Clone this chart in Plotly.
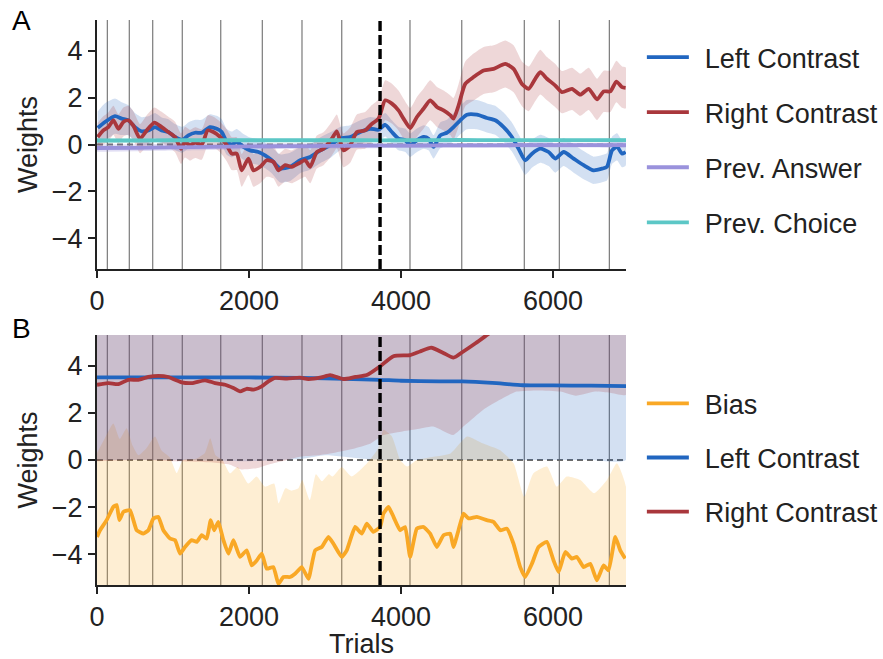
import plotly.graph_objects as go

# ---------------- Panel A: weights with history regressors ----------------
left_a_trials = [9, 105, 237, 325, 412, 500, 588, 676, 763, 851,
                 939, 1027, 1123, 1202, 1290, 1378, 1487, 1575, 1641, 1707,
                 1773, 1839, 1926, 2014, 2124, 2211, 2299, 2410, 2541, 2673,
                 2805, 2936, 3068, 3200, 3331, 3463, 3594, 3704, 3792, 3880,
                 3967, 4055, 4121, 4209, 4296, 4362, 4428, 4516, 4604, 4691,
                 4779, 4867, 4999, 5130, 5240, 5350, 5459, 5547, 5635, 5723,
                 5832, 5942, 6030, 6140, 6271, 6403, 6534, 6644, 6710, 6776,
                 6842, 6908, 6955]
left_a_w = [0.71, 0.96, 1.21, 1.10, 1.03, 0.74, 0.56, 0.60, 0.74, 0.60,
            0.53, 0.32, 0.20, 0.39, 0.50, 0.50, 0.74, 0.67, 0.53, 0.11,
            0.00, 0.11, -0.10, -0.25, -0.32, -0.46, -0.67, -1.02, -0.95, -0.67,
            -0.53, -0.25, -0.03, 0.25, 0.32, 0.53, 0.67, 0.63, 0.84, 0.53,
            0.25, 0.18, -0.03, 0.18, 0.32, 0.25, -0.10, 0.39, 0.50, 0.74,
            1.03, 1.27, 1.27, 1.13, 1.03, 0.74, 0.32, -0.18, -0.67, -0.39,
            -0.18, -0.32, -0.60, -0.32, -0.60, -0.88, -1.10, -1.03, -0.95, -0.25,
            -0.10, -0.39, -0.32]
left_a_sd = [0.70, 0.80, 0.75, 0.70, 0.65, 0.60, 0.60, 0.60, 0.60, 0.55,
             0.55, 0.55, 0.55, 0.55, 0.55, 0.55, 0.55, 0.55, 0.55, 0.55,
             0.55, 0.55, 0.55, 0.55, 0.55, 0.55, 0.55, 0.60, 0.60, 0.55,
             0.55, 0.55, 0.55, 0.50, 0.50, 0.50, 0.50, 0.50, 0.50, 0.50,
             0.50, 0.50, 0.50, 0.50, 0.50, 0.50, 0.50, 0.55, 0.55, 0.60,
             0.60, 0.62, 0.62, 0.62, 0.62, 0.62, 0.62, 0.62, 0.62, 0.60,
             0.60, 0.60, 0.60, 0.60, 0.60, 0.60, 0.58, 0.58, 0.58, 0.58,
             0.58, 0.58, 0.58]

right_a_trials = [9, 83, 149, 215, 281, 347, 412, 478, 566, 654,
                  755, 851, 939, 1027, 1106, 1158, 1224, 1290, 1378, 1457,
                  1531, 1619, 1707, 1773, 1839, 1904, 1992, 2058, 2146, 2233,
                  2321, 2388, 2475, 2563, 2651, 2739, 2805, 2892, 2980, 3090,
                  3155, 3243, 3331, 3419, 3528, 3616, 3704, 3792, 3880, 3967,
                  4033, 4121, 4209, 4296, 4384, 4472, 4560, 4647, 4691, 4757,
                  4845, 4955, 5086, 5218, 5372, 5481, 5591, 5679, 5767, 5832,
                  5920, 6030, 6118, 6249, 6359, 6469, 6579, 6666, 6754, 6833,
                  6908, 6955]
right_a_w = [0.32, 0.60, 0.74, 1.03, 0.67, 0.96, 1.03, 0.80, 0.25, 0.60,
             0.93, 0.74, 0.53, 0.32, -0.18, 0.10, -0.03, 0.08, 0.00, 0.60,
             0.53, 0.32, -0.03, -0.39, -0.39, -1.10, -0.60, -1.10, -0.95, -0.67,
             -0.74, -1.10, -0.88, -0.95, -0.81, -0.67, -0.95, -0.32, -0.18, 0.25,
             0.56, -0.25, -0.03, 0.53, 0.60, 0.88, 1.10, 1.88, 1.74, 1.45,
             1.10, 0.70, 1.17, 1.52, 1.88, 1.60, 1.45, 1.25, 1.10, 1.66,
             2.58, 2.87, 3.15, 3.22, 3.43, 3.22, 2.58, 2.37, 2.80, 3.08,
             2.80, 2.51, 2.23, 2.37, 2.12, 2.37, 1.92, 2.26, 2.26, 2.68,
             2.44, 2.41]
right_a_sd = [0.60, 0.60, 0.62, 0.62, 0.62, 0.62, 0.62, 0.62, 0.62, 0.65,
              0.65, 0.65, 0.65, 0.65, 0.65, 0.65, 0.65, 0.65, 0.65, 0.65,
              0.65, 0.65, 0.68, 0.70, 0.70, 0.70, 0.70, 0.70, 0.70, 0.70,
              0.70, 0.70, 0.70, 0.70, 0.70, 0.70, 0.70, 0.70, 0.70, 0.72,
              0.72, 0.72, 0.75, 0.75, 0.78, 0.80, 0.82, 0.85, 0.85, 0.85,
              0.85, 0.85, 0.85, 0.85, 0.85, 0.85, 0.85, 0.85, 0.88, 0.90,
              0.95, 1.00, 1.00, 1.00, 1.00, 1.00, 0.95, 0.95, 0.95, 0.95,
              0.92, 0.92, 0.90, 0.90, 0.90, 0.90, 0.88, 0.88, 0.88, 0.88,
              0.88, 0.88]

hist_trials = [0, 500, 1000, 1500, 2000, 2500, 3000, 3500, 4000, 4500,
               5000, 5500, 6000, 6500, 6960]
prev_answer_w = [-0.15, -0.14, -0.12, -0.10, -0.08, -0.07, -0.06, -0.05, -0.05, -0.04,
                 -0.04, -0.03, -0.03, -0.03, -0.03]
prev_answer_sd = [0.16, 0.15, 0.14, 0.13, 0.12, 0.12, 0.11, 0.11, 0.10, 0.10,
                  0.10, 0.10, 0.10, 0.10, 0.10]
prev_choice_w = [0.17, 0.17, 0.18, 0.18, 0.18, 0.18, 0.18, 0.18, 0.18, 0.19,
                 0.19, 0.19, 0.19, 0.19, 0.19]
prev_choice_sd = [0.10, 0.09, 0.08, 0.07, 0.07, 0.06, 0.06, 0.06, 0.06, 0.06,
                  0.06, 0.06, 0.06, 0.06, 0.06]

# ---------------- Panel B: bias model ----------------
bias_trials = [0, 40, 127, 215, 259, 294, 347, 434, 522, 610,
               676, 742, 807, 873, 961, 1027, 1093, 1158, 1246, 1312,
               1378, 1444, 1496, 1540, 1597, 1663, 1729, 1795, 1882, 1970,
               2036, 2102, 2168, 2233, 2321, 2387, 2453, 2541, 2606, 2694,
               2782, 2870, 2957, 3045, 3111, 3220, 3286, 3396, 3484, 3550,
               3637, 3725, 3769, 3835, 3901, 3988, 4054, 4120, 4208, 4296,
               4383, 4471, 4559, 4647, 4690, 4756, 4822, 4888, 4998, 5129,
               5217, 5305, 5393, 5480, 5568, 5634, 5722, 5809, 5919, 6007,
               6073, 6161, 6248, 6314, 6402, 6490, 6577, 6665, 6731, 6819,
               6884, 6950]
bias_w = [-3.26, -2.98, -2.55, -1.99, -1.91, -2.55, -2.20, -2.13, -2.98, -3.12,
          -2.98, -2.48, -2.41, -2.98, -3.33, -3.40, -3.97, -3.69, -3.40, -3.47,
          -3.19, -3.33, -2.55, -2.98, -2.62, -3.40, -3.97, -3.40, -4.11, -3.83,
          -4.47, -4.26, -3.97, -4.61, -4.54, -5.25, -4.96, -4.96, -4.82, -4.54,
          -5.04, -3.83, -3.69, -3.26, -3.55, -4.11, -3.83, -2.84, -3.12, -2.70,
          -3.05, -2.84, -2.27, -1.99, -2.41, -2.98, -2.84, -4.11, -2.91, -2.84,
          -3.12, -3.69, -3.19, -3.12, -3.69, -2.98, -2.27, -2.48, -2.41, -2.55,
          -2.62, -2.98, -2.91, -3.55, -4.54, -4.96, -4.40, -3.69, -3.47, -4.26,
          -4.75, -3.90, -4.18, -4.11, -4.54, -4.40, -5.10, -4.47, -4.68, -3.26,
          -3.83, -4.18]

bias_band_trials = [0, 100, 215, 300, 390, 470, 544, 650, 763, 850,
                    960, 1050, 1130, 1300, 1420, 1490, 1560, 1650, 1750, 1850,
                    1990, 2100, 2210, 2330, 2390, 2480, 2560, 2650, 2700, 2800,
                    2880, 2960, 3050, 3100, 3220, 3350, 3550, 3700, 3770, 3880,
                    3990, 4080, 4210, 4430, 4650, 4870, 5080, 5300, 5480, 5620,
                    5740, 5920, 6050, 6180, 6360, 6540, 6710, 6840, 6960]
bias_hi = [0.30, 0.90, 1.55, 0.90, 1.35, 0.60, 0.20, 0.50, 1.00, 0.40,
           0.10, -0.55, 0.00, 0.05, 0.30, 0.92, 0.20, 0.00, -0.57, -0.30,
           -1.00, -0.70, -1.13, -1.00, -1.84, -1.20, -1.30, -1.20, -0.85, -1.70,
           -0.60, -0.90, -0.60, -0.70, -0.30, -0.70, -0.15, 0.50, 1.28, 1.00,
           0.00, -0.28, 0.00, 0.14, 0.28, 1.00, 0.70, 0.42, -0.14, -1.56,
           -0.57, -0.28, -1.13, -0.70, -0.85, -1.41, -0.85, -0.14, -1.13]
bias_lo = [-6.8, -6.4, -5.5, -6.0, -5.8, -6.3, -6.6, -6.5, -5.8, -6.3,
           -6.8, -7.2, -7.3, -6.9, -6.6, -5.9, -6.4, -6.9, -7.2, -7.4,
           -7.3, -7.8, -7.6, -8.0, -8.6, -8.3, -8.3, -8.2, -8.0, -8.5,
           -7.2, -7.1, -6.6, -6.9, -7.5, -7.1, -6.1, -6.2, -5.7, -5.4,
           -6.4, -7.5, -6.3, -6.5, -6.5, -5.7, -5.8, -6.4, -6.9, -8.4,
           -7.8, -6.9, -7.7, -7.3, -7.9, -7.8, -8.1, -6.7, -7.6]

left_b_trials = [0, 1000, 2000, 2700, 3000, 3500, 3724, 4000, 4500, 4800,
                 5200, 5600, 6000, 6500, 6960]
left_b_w = [3.50, 3.50, 3.50, 3.48, 3.46, 3.42, 3.40, 3.36, 3.33, 3.33,
            3.27, 3.17, 3.16, 3.15, 3.13]
left_b_lo = [0.00, 0.00, -0.05, 0.05, 0.20, 0.05, 0.00, 0.00, 0.00, 0.00,
             0.00, 0.00, 0.00, 0.00, 0.00]
left_b_hi = [7.0, 7.0, 7.1, 6.9, 6.7, 6.8, 6.8, 6.7, 6.7, 6.7,
             6.5, 6.3, 6.3, 6.3, 6.3]

right_b_trials = [0, 149, 281, 412, 544, 676, 807, 939, 1027, 1114,
                  1246, 1422, 1553, 1685, 1795, 1882, 1970, 2058, 2168, 2255,
                  2343, 2500, 2670, 2780, 2950, 3067, 3240, 3400, 3550, 3724,
                  3900, 4120, 4250, 4400, 4550, 4690, 4820, 4980, 5130, 5300,
                  5600, 6000, 6500, 6960]
right_b_w = [3.19, 3.26, 3.22, 3.40, 3.40, 3.52, 3.57, 3.52, 3.40, 3.29,
             3.26, 3.38, 3.26, 3.19, 3.05, 2.91, 3.02, 2.98, 3.12, 3.33,
             3.48, 3.45, 3.49, 3.43, 3.50, 3.60, 3.43, 3.52, 3.60, 3.97,
             4.40, 4.45, 4.60, 4.76, 4.55, 4.34, 4.60, 4.95, 5.30, 5.70,
             6.30, 6.80, 7.20, 7.40]
right_band_trials = [0, 500, 1000, 1500, 1750, 1900, 2100, 2250, 2500, 2670,
                     2900, 3107, 3400, 3600, 3770, 4000, 4200, 4424, 4687, 4850,
                     5082, 5300, 5520, 5800, 6095, 6300, 6550, 6750, 6960]
right_b_lo = [-0.05, 0.00, -0.05, -0.10, -0.20, -0.40, -0.35, -0.20, 0.00, 0.14,
              0.20, 0.30, 0.50, 0.70, 1.06, 1.20, 1.30, 1.42, 1.06, 1.50,
              2.13, 2.55, 2.90, 2.95, 2.90, 2.72, 2.90, 2.85, 2.77]
right_b_hi = [6.6, 6.9, 7.1, 6.9, 6.6, 6.3, 6.4, 6.8, 7.0, 6.9,
              7.0, 7.0, 6.8, 6.8, 7.4, 7.9, 8.3, 8.6, 8.0, 8.6,
              9.5, 10.1, 10.6, 11.0, 11.3, 11.6, 12.0, 12.1, 12.0]

# session boundaries and the training/testing split
session_starts = [136, 425, 733, 1122, 1628, 2175, 2697, 3220, 4118, 4799,
                  5622, 6083, 6741]
split_trial = 3724

x_ticks = [0, 2000, 4000, 6000]
y_ticks = [-4, -2, 0, 2, 4]
X_MAX = 6960
Y_LIM = 5.3

BLUE = "#2166c0"
RED = "#a9373c"
PURPLE = "#9a92dc"
TEAL = "#5cc7c6"
ORANGE = "#f9a825"
TEXT = "#222222"
FONT = "Liberation Sans, Arial, Helvetica, sans-serif"
FS = 27
GAP = "\u2009\u2009"   # extra room between legend line and label


def rgba(hex_color, alpha):
    h = hex_color.lstrip("#")
    r, g, b = int(h[0:2], 16), int(h[2:4], 16), int(h[4:6], 16)
    return f"rgba({r},{g},{b},{alpha})"


fig = go.Figure()


def add_band(x, lo, hi, color, xa, ya, alpha=0.2):
    fig.add_trace(go.Scatter(
        x=list(x) + list(x)[::-1], y=list(hi) + list(lo)[::-1],
        fill="toself", fillcolor=rgba(color, alpha), line=dict(width=0, shape="spline", smoothing=0.5),
        mode="lines", hoverinfo="skip", showlegend=False,
        xaxis=xa, yaxis=ya))


def add_line(x, y, color, name, xa, ya, legend, group, smooth=0.6):
    fig.add_trace(go.Scatter(
        x=x, y=y, mode="lines", name=GAP + name,
        line=dict(color=color, width=3.8, shape="spline", smoothing=smooth),
        xaxis=xa, yaxis=ya, legend=legend, legendgroup=group))


def plus(a, b):
    return [u + v for u, v in zip(a, b)]


def minus(a, b):
    return [u - v for u, v in zip(a, b)]


# Panel A bands then lines
add_band(left_a_trials, minus(left_a_w, left_a_sd), plus(left_a_w, left_a_sd), BLUE, "x", "y")
add_band(right_a_trials, minus(right_a_w, right_a_sd), plus(right_a_w, right_a_sd), RED, "x", "y")
add_band(hist_trials, minus(prev_answer_w, prev_answer_sd), plus(prev_answer_w, prev_answer_sd), PURPLE, "x", "y", 0.3)
add_band(hist_trials, minus(prev_choice_w, prev_choice_sd), plus(prev_choice_w, prev_choice_sd), TEAL, "x", "y", 0.25)
add_line(left_a_trials, left_a_w, BLUE, "Left Contrast", "x", "y", "legend", "a1")
add_line(right_a_trials, right_a_w, RED, "Right Contrast", "x", "y", "legend", "a2")
add_line(hist_trials, prev_answer_w, PURPLE, "Prev. Answer", "x", "y", "legend", "a3")
add_line(hist_trials, prev_choice_w, TEAL, "Prev. Choice", "x", "y", "legend", "a4")

# Panel B bands then lines
add_band(bias_band_trials, bias_lo, bias_hi, ORANGE, "x2", "y2")
add_band(left_b_trials, left_b_lo, left_b_hi, BLUE, "x2", "y2")
add_band(right_band_trials, right_b_lo, right_b_hi, RED, "x2", "y2")
add_line(bias_trials, bias_w, ORANGE, "Bias", "x2", "y2", "legend2", "b1", smooth=0.4)
add_line(left_b_trials, left_b_w, BLUE, "Left Contrast", "x2", "y2", "legend2", "b2")
add_line(right_b_trials, right_b_w, RED, "Right Contrast", "x2", "y2", "legend2", "b3")

shapes = []
for xa, ya in (("x", "y"), ("x2", "y2")):
    for s in session_starts:
        shapes.append(dict(type="line", xref=xa, yref=ya + " domain", x0=s, x1=s, y0=0, y1=1,
                           line=dict(color="#7a7a7a", width=1.2), layer="below"))
    shapes.append(dict(type="line", xref=xa + " domain", yref=ya, x0=0, x1=1, y0=0, y1=0,
                       line=dict(color="#6a6a6a", width=1.8, dash="6px,4px"), layer="below"))
    shapes.append(dict(type="line", xref=xa, yref=ya + " domain", x0=split_trial, x1=split_trial,
                       y0=0, y1=1, line=dict(color="black", width=3.4, dash="10px,4px"), layer="above"))

axis_common = dict(
    range=[0, X_MAX], showline=True, linewidth=2, linecolor=TEXT, mirror=False,
    ticks="outside", ticklen=7, tickwidth=2, tickcolor=TEXT, automargin=False,
    showgrid=False, zeroline=False, tickfont=dict(size=FS, color=TEXT, family=FONT),
)
yaxis_common = dict(
    range=[-Y_LIM, Y_LIM], showline=True, linewidth=2, linecolor=TEXT, automargin=False,
    ticks="outside", ticklen=7, tickwidth=2, tickcolor=TEXT, tickvals=y_ticks,
    showgrid=False, zeroline=False, tickfont=dict(size=FS, color=TEXT, family=FONT),
    title=dict(text="Weights", font=dict(size=FS, color=TEXT, family=FONT), standoff=6),
)

legend_common = dict(
    font=dict(size=FS, color=TEXT, family=FONT), bgcolor="rgba(0,0,0,0)",
    borderwidth=0, itemwidth=42, xanchor="left", yanchor="top",
)

fig.update_layout(
    width=883, height=659,
    margin=dict(l=97, r=257, t=20, b=74, autoexpand=False),
    paper_bgcolor="white", plot_bgcolor="white",
    font=dict(family=FONT, color=TEXT, size=FS),
    xaxis=dict(axis_common, domain=[0, 1], anchor="y", tickvals=x_ticks),
    yaxis=dict(yaxis_common, domain=[0.5593, 1], anchor="x"),
    xaxis2=dict(axis_common, domain=[0, 1], anchor="y2", tickvals=x_ticks,
                title=dict(text="Trials", font=dict(size=FS, color=TEXT, family=FONT), standoff=4)),
    yaxis2=dict(yaxis_common, domain=[0, 0.4425], anchor="x2"),
    legend=dict(legend_common, x=1.03, y=0.977, tracegroupgap=17),
    legend2=dict(legend_common, x=1.03, y=0.364, tracegroupgap=16),
    shapes=shapes,
    annotations=[
        dict(text="A", x=-0.164, y=1.03, xref="paper", yref="paper", showarrow=False,
             xanchor="left", yanchor="top", font=dict(size=28, color="black", family=FONT)),
        dict(text="B", x=-0.164, y=0.485, xref="paper", yref="paper", showarrow=False,
             xanchor="left", yanchor="top", font=dict(size=28, color="black", family=FONT)),
    ],
    showlegend=True,
)

fig.write_html("out.html")
